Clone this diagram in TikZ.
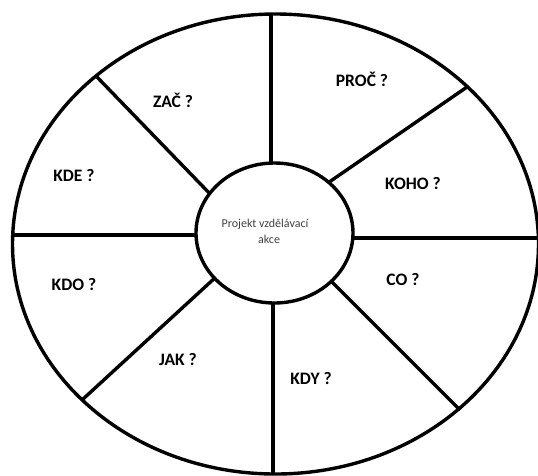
\documentclass[tikz,border=0pt]{standalone}
\usepackage{fontspec}
\setmainfont{Carlito}
\usetikzlibrary{shapes.geometric}
\definecolor{txtgray}{HTML}{404040}
\tikzset{
  spoke/.style={draw=black, line width=3.4pt},
  lbl/.style={font=\fontsize{17.5}{20}\selectfont\bfseries, text=black, inner sep=0pt},
  hub/.style={ellipse, draw=black, line width=3.4pt, fill=white, inner sep=0pt,
    minimum width=157pt, minimum height=140pt},
  rim/.style={ellipse, draw=black, line width=3.4pt, inner sep=0pt,
    minimum width=526pt, minimum height=460pt}
}
\begin{document}
\begin{tikzpicture}[x=1pt,y=-1pt]
\useasboundingbox (0,0) rectangle (538,475);
\fill[white] (0,0) rectangle (538,475);
\node[rim] (outer) at (275.5,244) {};
% spoke end points
\coordinate (t1) at (271,14);   \coordinate (t2) at (271,170);
\coordinate (b1) at (273,474);  \coordinate (b2) at (273,296);
\coordinate (l1) at (13,235);   \coordinate (l2) at (205,235);
\coordinate (r1) at (540,238);  \coordinate (r2) at (345,238);
\coordinate (ul1) at (97,77);   \coordinate (ul2) at (214,198);
\coordinate (ur1) at (467,87);  \coordinate (ur2) at (322,187);
\coordinate (ll1) at (82,400);  \coordinate (ll2) at (217,276);
\coordinate (lr1) at (460,410); \coordinate (lr2) at (328,278);
\draw[spoke] (t1) -- (t2);
\draw[spoke] (b1) -- (b2);
\draw[spoke] (l1) -- (l2);
\draw[spoke] (r1) -- (r2);
\draw[spoke] (ul1) -- (ul2);
\draw[spoke] (ur1) -- (ur2);
\draw[spoke] (ll1) -- (ll2);
\draw[spoke] (lr1) -- (lr2);
\node[hub] (hub) at (274.5,233) {};
\node[text=txtgray, font=\fontsize{12}{16}\selectfont, align=center, inner sep=0pt] (hubtxt) at (265,231) {Projekt vzdělávací\\ \hspace*{8pt}akce};
\node[lbl] (zac) at (173,100) {ZAČ ?};
\node[lbl] (kde) at (74,176) {KDE ?};
\node[lbl] (proc) at (362,79) {PROČ ?};
\node[lbl] (koho) at (413,184) {KOHO ?};
\node[lbl] (kdo) at (74,285) {KDO ?};
\node[lbl] (jak) at (178,360) {JAK ?};
\node[lbl] (co) at (403,280) {CO ?};
\node[lbl] (kdy) at (311,379) {KDY ?};
\end{tikzpicture}
\end{document}
